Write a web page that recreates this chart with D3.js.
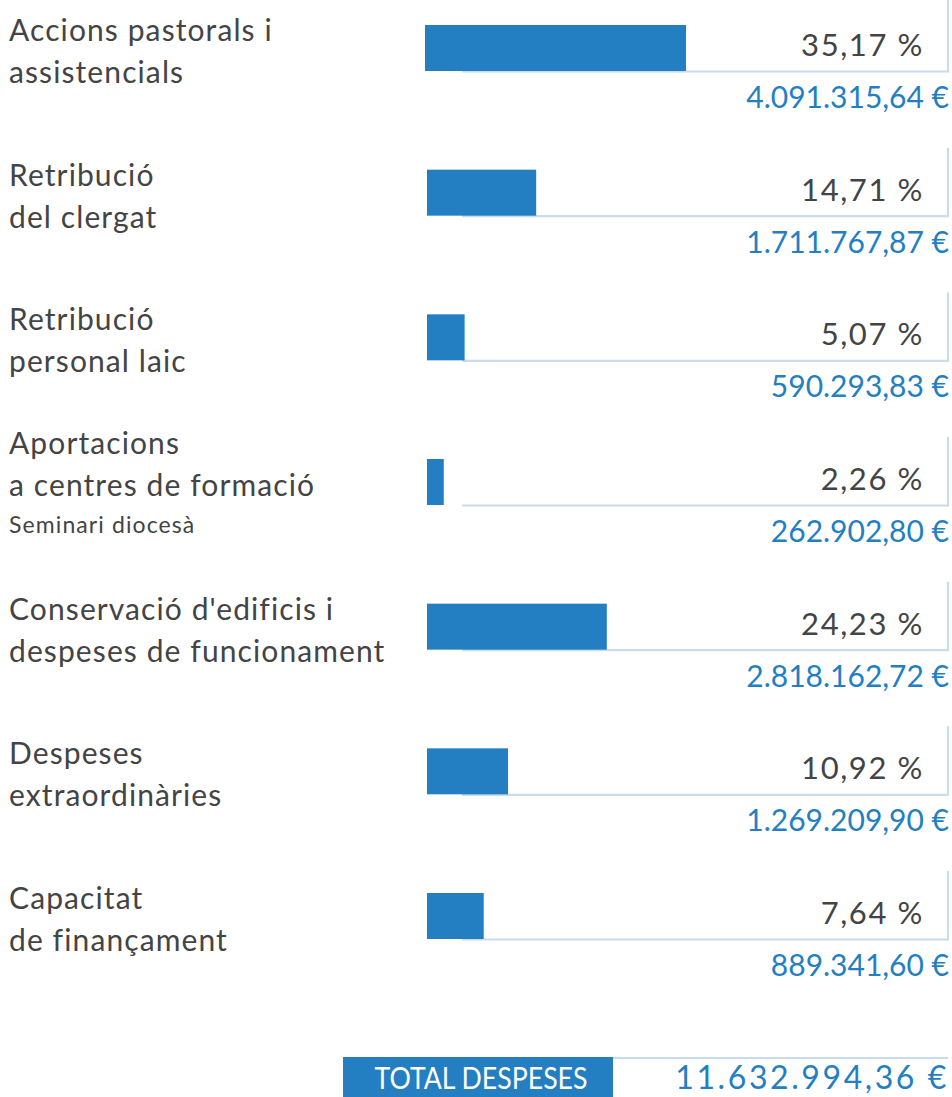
<!DOCTYPE html>
<html>
<head>
<meta charset="utf-8">
<script src="https://cdn.jsdelivr.net/npm/d3@7"></script>
<style>
  html, body { margin: 0; padding: 0; background: #fff; }
  svg { display: block; }
  text { font-family: "Lato", "Open Sans", sans-serif; }
</style>
</head>
<body>
<svg id="chart" width="952" height="1097"></svg>
<script>
// ---- data ----
const categories = [
  "Accions pastorals i assistencials",
  "Retribució del clergat",
  "Retribució personal laic",
  "Aportacions a centres de formació",
  "Conservació d'edificis i despeses de funcionament",
  "Despeses extraordinàries",
  "Capacitat de finançament"
];
const labelLines = [
  ["Accions pastorals i", "assistencials"],
  ["Retribució", "del clergat"],
  ["Retribució", "personal laic"],
  ["Aportacions", "a centres de formació"],
  ["Conservació d'edificis i", "despeses de funcionament"],
  ["Despeses", "extraordinàries"],
  ["Capacitat", "de finançament"]
];
const subLabels = ["", "", "", "Seminari diocesà", "", "", ""];
const percents = [35.17, 14.71, 5.07, 2.26, 24.23, 10.92, 7.64];
const amounts = [4091315.64, 1711767.87, 590293.83, 262902.80, 2818162.72, 1269209.90, 889341.60];
const totalLabel = "TOTAL DESPESES";
const totalAmount = 11632994.36;

// ---- formatting (Catalan locale) ----
const loc = d3.formatLocale({decimal: ",", thousands: ".", grouping: [3], currency: ["", " €"]});
const fmtPct = d => loc.format(",.2f")(d) + " %";
const fmtEur = d => loc.format(",.2f")(d) + " €";

// ---- layout ----
const svg = d3.select("#chart");
const barX0 = 427, barH = 46, rightX = 948;
const BLUE = "#237fc2", GREY = "#444444", LINE = "#c9dcee";

const x = d3.scaleLinear().domain([0, 35.17]).range([0, 261]);
const y = d3.scalePoint().domain(categories).range([25, 893]);

const rows = svg.selectAll("g.row")
  .data(categories.map((c, i) => ({c, i, lines: labelLines[i], sub: subLabels[i], p: percents[i], a: amounts[i]})))
  .join("g").attr("class", "row")
  .attr("transform", d => `translate(0,${y(d.c)})`);

// frame lines (light blue)
rows.append("line")
  .attr("x1", barX0 + 35).attr("x2", rightX)
  .attr("y1", barH + 0.5).attr("y2", barH + 0.5)
  .attr("stroke", LINE).attr("stroke-width", 2.2);
rows.append("line")
  .attr("x1", rightX).attr("x2", rightX)
  .attr("y1", d => d.i === 0 ? -25 : -22).attr("y2", barH + 1.5)
  .attr("stroke", LINE).attr("stroke-width", 2.2);

// bars
rows.append("rect")
  .attr("x", d => d.i === 0 ? barX0 - 2 : barX0)
  .attr("y", 0)
  .attr("width", d => x(d.p))
  .attr("height", barH)
  .attr("fill", BLUE);

// percent labels
rows.append("text")
  .attr("x", 924).attr("y", 31)
  .attr("text-anchor", "end")
  .attr("fill", GREY)
  .attr("font-size", 31)
  .attr("letter-spacing", 1.6)
  .text(d => fmtPct(d.p));

// amounts
rows.append("text")
  .attr("x", rightX + 1).attr("y", barH + 37)
  .attr("text-anchor", "end")
  .attr("fill", BLUE)
  .attr("font-size", 30)
  .text(d => fmtEur(d.a));

// category labels
rows.each(function(d) {
  const g = d3.select(this);
  const shift = d.sub ? -21 : 0;
  d.lines.forEach((t, k) => {
    g.append("text")
      .attr("x", 9).attr("y", 16 + shift + k * 42)
      .attr("fill", GREY)
      .attr("font-size", 30)
      .attr("letter-spacing", 1.1)
      .text(t);
  });
  if (d.sub) {
    g.append("text")
      .attr("x", 9).attr("y", 16 + shift + 2 * 42 - 5)
      .attr("fill", GREY)
      .attr("font-size", 23)
      .attr("letter-spacing", 1.1)
      .text(d.sub);
  }
});

// total
const tot = svg.append("g");
tot.append("line")
  .attr("x1", 613).attr("x2", rightX)
  .attr("y1", 1058).attr("y2", 1058)
  .attr("stroke", LINE).attr("stroke-width", 2.2);
tot.append("rect")
  .attr("x", 343).attr("y", 1057).attr("width", 270).attr("height", 40)
  .attr("fill", BLUE);
tot.append("text")
  .attr("x", 481).attr("y", 1089)
  .attr("text-anchor", "middle")
  .attr("fill", "#fff")
  .attr("font-size", 31)
  .attr("textLength", 213)
  .attr("lengthAdjust", "spacingAndGlyphs")
  .text(totalLabel);
tot.append("text")
  .attr("x", rightX + 1).attr("y", 1089)
  .attr("text-anchor", "end")
  .attr("fill", BLUE)
  .attr("font-size", 32)
  .attr("letter-spacing", 2.6)
  .text(fmtEur(totalAmount));
</script>
</body>
</html>
